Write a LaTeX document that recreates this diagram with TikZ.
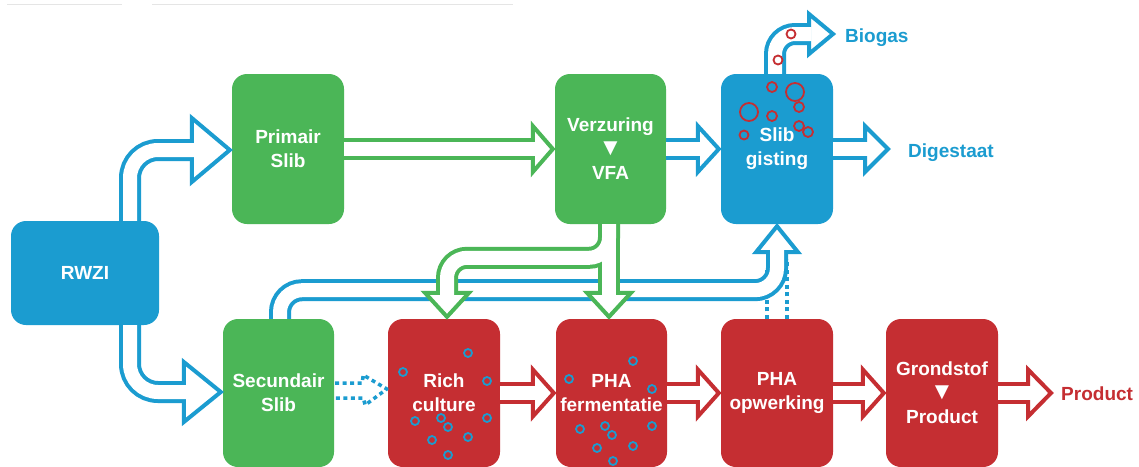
\documentclass[tikz,border=0pt]{standalone}
\usepackage{fontspec}
\setmainfont{Liberation Sans}
\usetikzlibrary{calc}
\definecolor{cgreen}{HTML}{4BB657}
\definecolor{cblue}{HTML}{1B9CD0}
\definecolor{cred}{HTML}{C52E32}
\newcommand\headR[4]{\filldraw[headst=#1] ($(#2)+(-#3,-#4)$) -- (#2) -- ($(#2)+(-#3,#4)$) -- cycle;}
\newcommand\headU[4]{\filldraw[headst=#1] ($(#2)+(-#4,#3)$) -- (#2) -- ($(#2)+(#4,#3)$) -- cycle;}
\newcommand\headD[4]{\filldraw[headst=#1] ($(#2)+(-#4,-#3)$) -- (#2) -- ($(#2)+(#4,-#3)$) -- cycle;}
\newcommand\tri{{\fontsize{24}{24}\selectfont ▼}}
\begin{document}
\begin{tikzpicture}[x=1pt,y=-1pt,
 box/.style={rounded corners=15pt, minimum width=112pt, minimum height=150pt, inner sep=0pt, text=white, align=center, font=\fontsize{19}{24}\selectfont\bfseries},
 shaftout/.style={line width=22pt, draw=#1},
 shaftin/.style={line width=14pt, draw=white},
 headst/.style={fill=white, draw=#1, line width=4pt, line join=miter},
 dotl/.style={draw=cblue, line width=4pt, dash pattern=on 4pt off 3.5pt},
 bub/.style={draw=#1, line width=1.8pt},
 lab/.style={anchor=base west, inner sep=0pt, font=\fontsize{19}{24}\selectfont\bfseries}]
\useasboundingbox (0,0) rectangle (1139,466);
\fill[white] (0,0) rectangle (1139,466);
\draw[black!10, line width=1pt] (7,4) -- (122,4) (152,4) -- (513,4);

% boxes
\node[box, fill=cblue, minimum width=148pt, minimum height=104pt] (rwzi) at (85,273) {RWZI};
\node[box, fill=cgreen] (prim) at (288,149) {Primair\\Slib};
\node[box, fill=cgreen, minimum width=111pt] (verz) at (610.5,149) {Verzuring\\\tri\\VFA};
\node[box, fill=cblue] (gist) at (777,149) {Slib\\gisting};
\node[box, fill=cgreen, minimum width=111pt, minimum height=148pt] (sec) at (278.5,393) {Secundair\\Slib};
\node[box, fill=cred, minimum height=148pt] (rich) at (444,393) {Rich\\culture};
\node[box, fill=cred, minimum width=111pt, minimum height=148pt] (pha) at (611.5,393) {PHA\\fermentatie};
\node[box, fill=cred, minimum height=148pt] (opw) at (777,393) {PHA\\opwerking};
\node[box, fill=cred, minimum height=148pt] (grond) at (942,393) {Grondstof\\\tri\\Product};

% labels
\node[lab, text=cblue] (bio) at (845,42) {Biogas};
\node[lab, text=cblue] (dig) at (908,157) {Digestaat};
\node[lab, text=cred] (prod) at (1061,400) {Product};

% RWZI -> Primair
\coordinate (t1) at ($(prim.west)+(-2,1)$);
\draw[shaftout=cblue, rounded corners=28pt] ($(rwzi.north)+(45,0)$) |- ($(t1)+(-38,0)$);
\headR{cblue}{t1}{38}{32}
\draw[shaftin, rounded corners=28pt] ($(rwzi.north)+(45,0)$) |- ($(t1)+(-35.5,0)$);

% RWZI -> Secundair
\coordinate (t2) at ($(sec.west)+(-2,-1)$);
\draw[shaftout=cblue, rounded corners=28pt] ($(rwzi.south)+(45,0)$) |- ($(t2)+(-37,0)$);
\headR{cblue}{t2}{37}{30}
\draw[shaftin, rounded corners=28pt] ($(rwzi.south)+(45,0)$) |- ($(t2)+(-34.5,0)$);

% Primair -> Verzuring
\coordinate (t3) at ($(verz.west)+(-2,0)$);
\draw[shaftout=cgreen] (prim.east) -- ($(t3)+(-20,0)$);
\headR{cgreen}{t3}{20}{23}
\draw[shaftin] (prim.east) -- ($(t3)+(-17.5,0)$);

% Verzuring -> Slib gisting
\coordinate (t4) at ($(gist.west)+(-2,0)$);
\draw[shaftout=cblue] (verz.east) -- ($(t4)+(-21,0)$);
\headR{cblue}{t4}{21}{23}
\draw[shaftin] (verz.east) -- ($(t4)+(-18.5,0)$);

% Slib gisting -> Digestaat
\coordinate (t5) at ($(dig.base west)+(-20,-8)$);
\draw[shaftout=cblue] (gist.east) -- ($(t5)+(-23,0)$);
\headR{cblue}{t5}{23}{23}
\draw[shaftin] (gist.east) -- ($(t5)+(-20.5,0)$);

% Slib gisting -> Biogas
\coordinate (s6) at ($(gist.north)+(-2,0)$);
\coordinate (t6) at ($(bio.base west)+(-12,-8)$);
\draw[shaftout=cblue, rounded corners=20pt] (s6) |- ($(t6)+(-24,0)$);
\headR{cblue}{t6}{24}{20}
\draw[shaftin, rounded corners=20pt] (s6) |- ($(t6)+(-21.5,0)$);

% dotted: PHA opwerking -> Slib gisting
\draw[dotl] ($(opw.north)+(-10,0)$) -- ++(0,-50);
\draw[dotl] ($(opw.north)+(10,0)$) -- ++(0,-60);

% Secundair -> Slib gisting
\coordinate (s9) at ($(sec.north)+(1.5,0)$);
\coordinate (t9) at ($(gist.south)+(0,2)$);
\draw[shaftout=cblue, rounded corners=22pt] (s9) |- ($(t9)+(0,64)$) -- ($(t9)+(0,26)$);
\headU{cblue}{t9}{26}{21}
\draw[shaftin, rounded corners=22pt] (s9) |- ($(t9)+(0,64)$) -- ($(t9)+(0,23.5)$);

% Verzuring -> Rich culture and PHA fermentatie
\coordinate (s7) at ($(verz.south)+(-1.5,0)$);
\coordinate (t7) at ($(rich.north)+(3,-2)$);
\coordinate (t8) at ($(pha.north)+(-2.5,-2)$);
\draw[shaftout=cgreen, rounded corners=20pt] (s7) |- ($(t7)+(0,-59)$) -- ($(t7)+(0,-24)$);
\draw[shaftout=cgreen] (s7) -- ($(t8)+(0,-24)$);
\headD{cgreen}{t7}{24}{22}
\headD{cgreen}{t8}{24}{22}
\draw[shaftin, rounded corners=20pt] (s7) |- ($(t7)+(0,-59)$) -- ($(t7)+(0,-21.5)$);
\draw[shaftin] (s7) -- ($(t8)+(0,-21.5)$);

% dotted: Secundair -> Rich culture
\draw[dotl, line width=3.5pt, line join=round] ($(sec.east)+(1,-10)$) -- ++(27,0) -- ++(1,-8) -- ($(rich.west)+(-1,-4)$) -- ($(sec.east)+(31,12)$) -- ++(-2,-7) -- ($(sec.east)+(1,5)$);

% red chain
\coordinate (t11) at ($(pha.west)+(-2,0)$);
\draw[shaftout=cred] (rich.east) -- ($(t11)+(-21,0)$);
\headR{cred}{t11}{21}{23.5}
\draw[shaftin] (rich.east) -- ($(t11)+(-18.5,0)$);
\coordinate (t12) at ($(opw.west)+(-2,0)$);
\draw[shaftout=cred] (pha.east) -- ($(t12)+(-21,0)$);
\headR{cred}{t12}{21}{23.5}
\draw[shaftin] (pha.east) -- ($(t12)+(-18.5,0)$);
\coordinate (t13) at ($(grond.west)+(-2,0)$);
\draw[shaftout=cred] (opw.east) -- ($(t13)+(-21,0)$);
\headR{cred}{t13}{21}{23.5}
\draw[shaftin] (opw.east) -- ($(t13)+(-18.5,0)$);
\coordinate (t14) at ($(prod.base west)+(-10,-7)$);
\draw[shaftout=cred] (grond.east) -- ($(t14)+(-23,0)$);
\headR{cred}{t14}{23}{23.5}
\draw[shaftin] (grond.east) -- ($(t14)+(-20.5,0)$);

% red bubbles (biogas)
\foreach \x/\y/\r in {791/34/4.5, 778/60/4.5, 772/87/5, 795/92/9, 799/107/5, 749/112/9, 772/116/5, 799/126/5, 808/132/5, 744/135/4.5}
  \draw[bub=cred] (\x,\y) circle[radius=\r];
% blue bubbles
\foreach \x/\y in {468/353, 403/372, 487/381, 415/421, 441/418, 448/427, 487/418, 432/440, 468/437, 448/455,
                   633/361, 569/379, 652/389, 580/429, 605/426, 612/435, 652/426, 597/448, 633/446, 613/461}
  \draw[bub=cblue] (\x,\y) circle[radius=4];
\end{tikzpicture}
\end{document}
